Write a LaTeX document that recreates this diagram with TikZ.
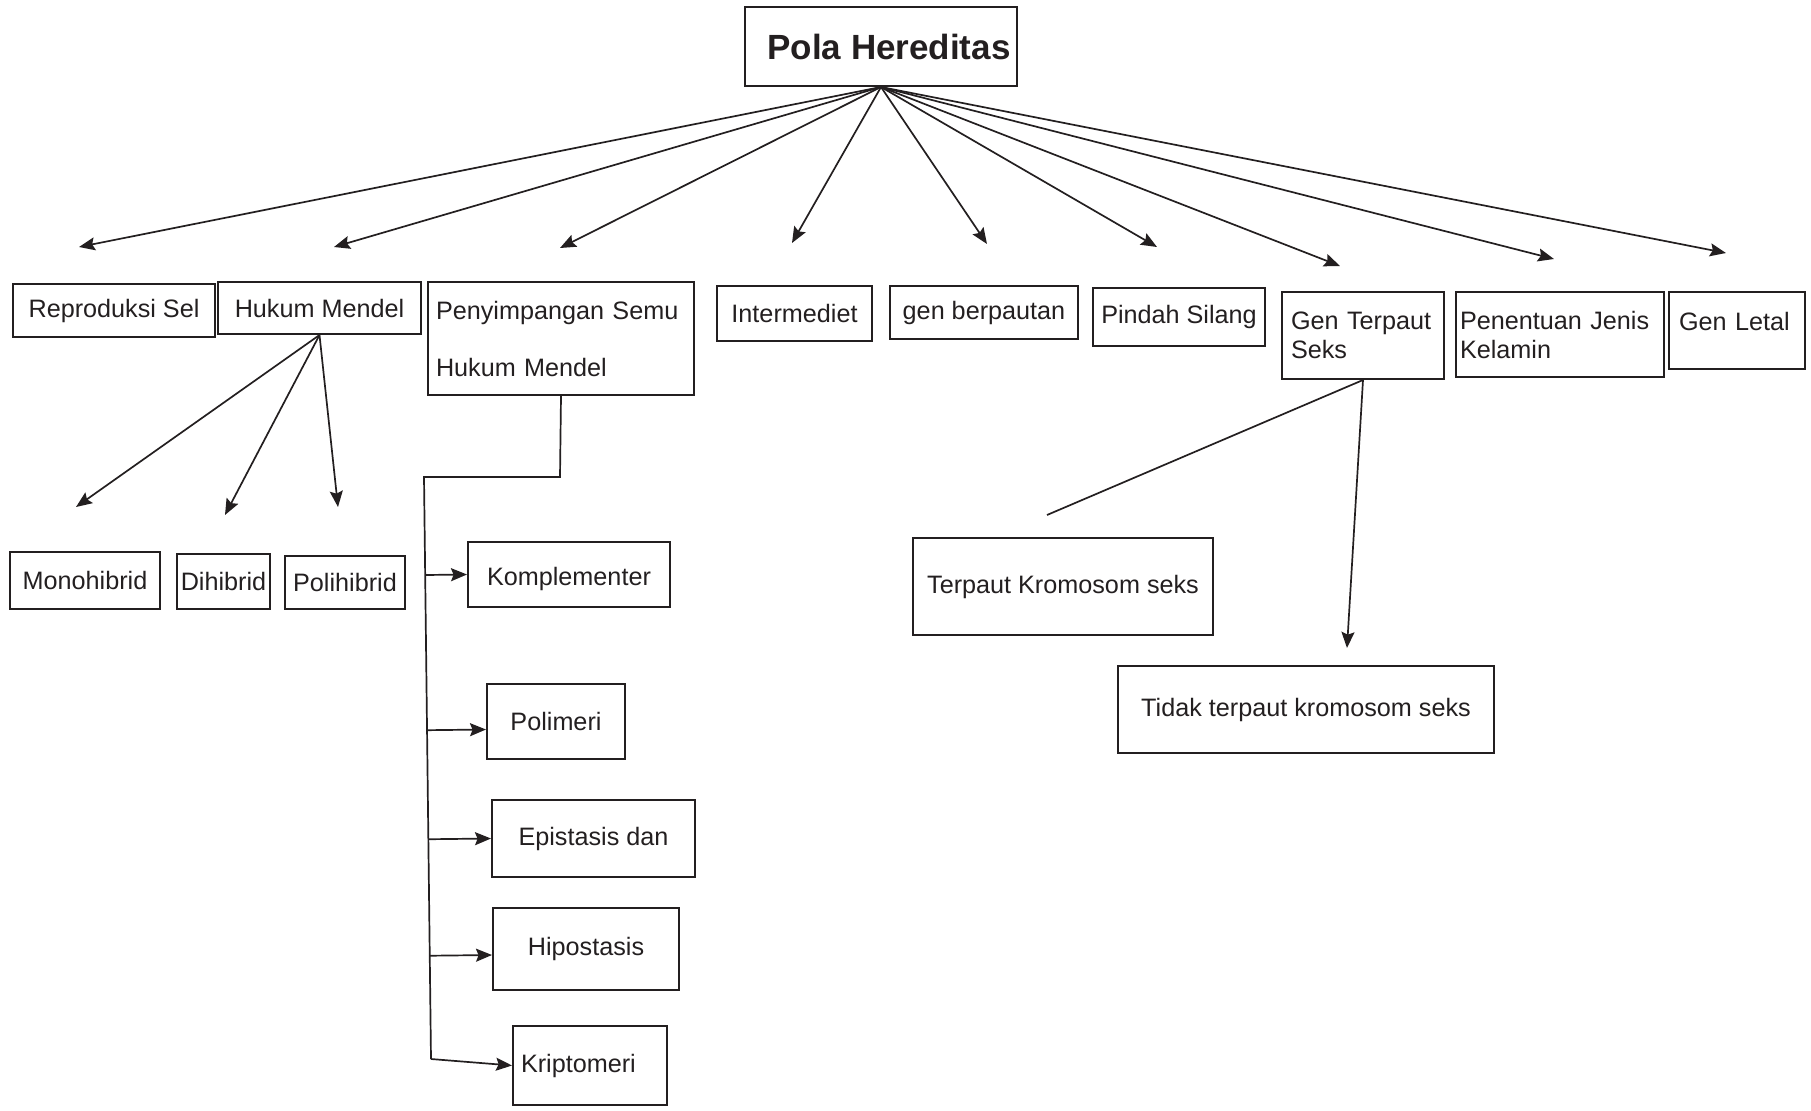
\documentclass[tikz,border=0pt]{standalone}
\usepackage{fontspec}
\setmainfont{Liberation Sans}
\usetikzlibrary{arrows.meta,positioning,calc}
\definecolor{ink}{HTML}{231F20}
\tikzset{
  every picture/.style={line width=0.85pt, draw=ink, text=ink},
  box/.style={draw=ink, line width=1pt, anchor=north west, inner sep=0pt, align=center, font=\fontsize{12.6}{14.5}\selectfont},
  leftbox/.style={box, align=left},
  head/.style={box, font=\bfseries\fontsize{17.5}{21}\selectfont},
  link/.style={-{Stealth[length=8pt, width=6.5pt, inset=1.3pt]}, draw=ink},
  stem/.style={draw=ink},
}
\begin{document}
\begin{tikzpicture}[x=0.5pt, y=-0.5pt]
\useasboundingbox (0,0) rectangle (1811,1110);
\node[head, minimum width=136pt, minimum height=39.5pt] (pola) at (744,6) {\hspace{8pt}Pola Hereditas};
\node[box, minimum width=101pt, minimum height=26.5pt] (reproduksi) at (12,283) {Reproduksi Sel};
\node[box, minimum width=101.5pt, minimum height=26pt] (mendel) at (217,281) {Hukum Mendel};
\node[leftbox, inner xsep=4pt, text width=125pt, minimum height=56.5pt] (semu) at (427,281) {Penyimpangan Semu\\[14pt]Hukum Mendel};
\node[box, minimum width=77.5pt, minimum height=27.5pt] (intermediet) at (716,285) {Intermediet};
\node[box, minimum width=94pt, minimum height=26.5pt] (berpautan) at (889,285) {gen berpautan};
\node[box, minimum width=86pt, minimum height=29pt] (silang) at (1092,287) {Pindah Silang};
\node[leftbox, inner xsep=4.5pt, text width=72pt, minimum height=43.5pt] (terpaut) at (1281,291) {Gen Terpaut\\Seks};
\node[leftbox, inner xsep=2pt, text width=100pt, minimum height=42.5pt] (kelamin) at (1455,291) {Penentuan Jenis\\Kelamin};
\node[leftbox, inner xsep=5pt, text width=58pt, minimum height=38.5pt, text height=9pt, text depth=9.5pt] (letal) at (1668,291) {Gen Letal};
\node[box, minimum width=75pt, minimum height=28.5pt] (mono) at (9,551) {Monohibrid};
\node[box, minimum width=46.5pt, minimum height=27.5pt] (di) at (176,553) {Dihibrid};
\node[box, minimum width=60pt, minimum height=26.5pt] (poli) at (284,555) {Polihibrid};
\node[box, minimum width=101pt, minimum height=32.5pt, text height=13pt, text depth=2pt] (komplementer) at (467,541) {Komplementer};
\node[box, minimum width=69pt, minimum height=37.5pt] (polimeri) at (486,683) {Polimeri};
\node[box, minimum width=101.5pt, minimum height=38.5pt] (epistasis) at (491,799) {Epistasis dan};
\node[box, minimum width=93pt, minimum height=41pt] (hipostasis) at (492,907) {Hipostasis};
\node[leftbox, inner xsep=4pt, text width=69pt, minimum height=39.5pt] (kriptomeri) at (512,1025) {Kriptomeri};
\node[box, minimum width=150pt, minimum height=48.5pt] (kromosom) at (912,537) {Terpaut Kromosom seks};
\node[box, minimum width=188pt, minimum height=43.5pt] (tidak) at (1117,665) {Tidak terpaut kromosom seks};

\foreach \n/\px/\py in {t1/79/247, t2/334/247, t3/560/248, t4/792/243, t5/987/244, t6/1157/247, t7/1340/266, t8/1554/259, t9/1726/253}
  \coordinate (\n) at (\px,\py);
\foreach \n in {t1,t2,t3,t4,t5,t6,t7,t8,t9}
  \draw[link] (pola.south) -- (\n);

\foreach \n/\px/\py in {m1/76/507, m2/225/515, m3/338/507}
  \coordinate (\n) at (\px,\py);
\foreach \n in {m1,m2,m3}
  \draw[link] (mendel.south) -- (\n);

\coordinate (elbow) at (560,477);
\coordinate (trunktop) at (424,477);
\coordinate (trunkend) at (431,1059);
\draw[stem] (semu.south) -- (elbow) -- (trunktop) -- (trunkend);
\foreach \n/\dy in {komplementer/0, polimeri/-4, epistasis/0, hipostasis/-3}
  \draw[link] ($(trunktop)!([yshift=\dy pt]\n.west)!(trunkend)$) -- ([yshift=\dy pt]\n.west);
\draw[link] (trunkend) -- (kriptomeri.west);

\coordinate (cut) at (1047,515);
\coordinate (down) at (1347,648);
\draw[stem] (terpaut.south) -- (cut);
\draw[link] (terpaut.south) -- (down);
\end{tikzpicture}
\end{document}
